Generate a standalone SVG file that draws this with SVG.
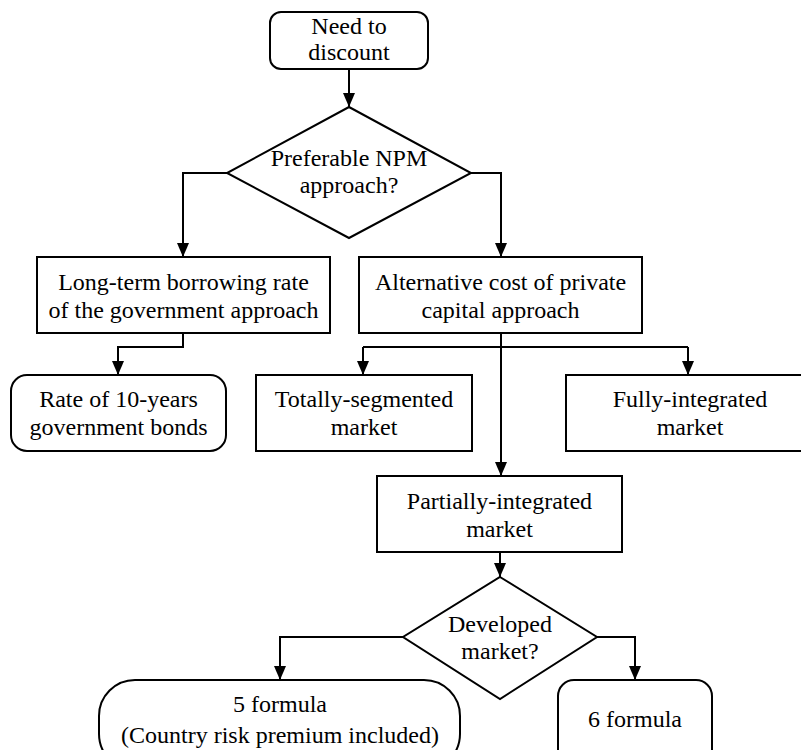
<svg xmlns="http://www.w3.org/2000/svg" width="801" height="750" viewBox="0 0 801 750">
  <style>
    .box { fill: #ffffff; stroke: #000000; stroke-width: 2; }
    .lbl { font-family: 'Liberation Serif', 'Times New Roman', serif; font-size: 24px; fill: #000000; text-anchor: middle; }
    .edge { fill: none; stroke: #000000; stroke-width: 2; }
    .arr { marker-end: url(#head); }
  </style>
  <defs>
    <marker id="head" markerUnits="userSpaceOnUse" markerWidth="14" markerHeight="12" refX="14" refY="6" orient="auto">
      <path d="M0,0 L14,6 L0,12 z" fill="#000000"/>
    </marker>
  </defs>
  <rect width="801" height="750" fill="#ffffff"/>

  <!-- connectors -->
  <g id="connectors">
    <path class="edge arr" d="M349,69 V107"/>
    <path class="edge arr" d="M227,173 H183 V257"/>
    <path class="edge arr" d="M471,173 H501 V257"/>
    <path class="edge arr" d="M183,333 V347 H118 V375"/>
    <path class="edge arr" d="M501,333 V476"/>
    <path class="edge" d="M363,347 H688"/>
    <path class="edge arr" d="M363,347 V375"/>
    <path class="edge arr" d="M688,347 V375"/>
    <path class="edge arr" d="M500,552 V577"/>
    <path class="edge arr" d="M403,637 H280 V680"/>
    <path class="edge arr" d="M597,637 H635 V680"/>
  </g>

  <!-- start -->
  <g id="need-to-discount">
    <rect class="box" x="270" y="12" width="158" height="57" rx="11"/>
    <text class="lbl" x="349" y="34">Need to</text>
    <text class="lbl" x="349" y="60">discount</text>
  </g>

  <!-- first decision -->
  <g id="npm-approach">
    <polygon class="box" points="349,107 471,173 349,238 227,173"/>
    <text class="lbl" x="349" y="166">Preferable NPM</text>
    <text class="lbl" x="349" y="193">approach?</text>
  </g>

  <g id="government-approach">
    <rect class="box" x="37" y="257" width="293" height="76"/>
    <text class="lbl" x="183.5" y="290">Long-term borrowing rate</text>
    <text class="lbl" x="183.5" y="318">of the government approach</text>
  </g>

  <g id="private-capital-approach">
    <rect class="box" x="359" y="257" width="283" height="76"/>
    <text class="lbl" x="500.5" y="290">Alternative cost of private</text>
    <text class="lbl" x="500.5" y="318">capital approach</text>
  </g>

  <g id="bond-rate">
    <rect class="box" x="11" y="375" width="215" height="76" rx="16"/>
    <text class="lbl" x="118.5" y="407">Rate of 10-years</text>
    <text class="lbl" x="118.5" y="435">government bonds</text>
  </g>

  <g id="totally-segmented">
    <rect class="box" x="256" y="375" width="216" height="76"/>
    <text class="lbl" x="364" y="407">Totally-segmented</text>
    <text class="lbl" x="364" y="435">market</text>
  </g>

  <g id="fully-integrated">
    <rect class="box" x="566" y="375" width="246" height="76"/>
    <text class="lbl" x="690" y="407">Fully-integrated</text>
    <text class="lbl" x="690" y="435">market</text>
  </g>

  <g id="partially-integrated">
    <rect class="box" x="377" y="476" width="245" height="76"/>
    <text class="lbl" x="499.5" y="509">Partially-integrated</text>
    <text class="lbl" x="499.5" y="537">market</text>
  </g>

  <!-- second decision -->
  <g id="developed-market">
    <polygon class="box" points="500,577 597,637 500,699 403,637"/>
    <text class="lbl" x="500" y="632">Developed</text>
    <text class="lbl" x="500" y="659">market?</text>
  </g>

  <g id="formula-5">
    <rect class="box" x="99" y="680" width="361" height="90" rx="36"/>
    <text class="lbl" x="280" y="712">5 formula</text>
    <text class="lbl" x="280" y="743">(Country risk premium included)</text>
  </g>

  <g id="formula-6">
    <rect class="box" x="558" y="680" width="154" height="90" rx="16"/>
    <text class="lbl" x="635" y="727">6 formula</text>
  </g>
</svg>
